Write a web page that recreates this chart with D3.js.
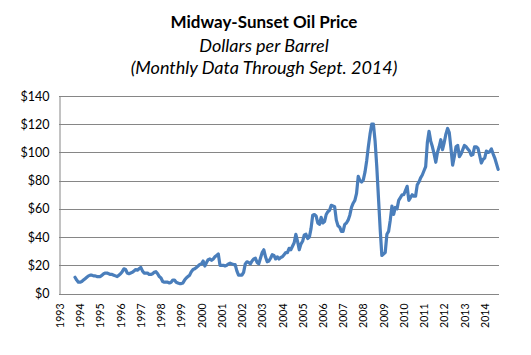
<!DOCTYPE html>
<html><head><meta charset="utf-8">
<script src="https://cdn.jsdelivr.net/npm/d3@7"></script>
<style>
html,body{margin:0;padding:0;background:#fff;}
svg{display:block;}
</style></head>
<body>
<svg id="chart" width="531" height="355"></svg>
<script>
// ---- data ----
const titleLines = ["Midway-Sunset Oil Price", "Dollars per Barrel", "(Monthly Data Through Sept. 2014)"];
const firstYear = 1993;            // category axis starts Jan 1993
const dataStartMonth = 9;          // first value is Oct 1993 (month index from Jan 1993)
const yearLabels = ["1993","1994","1995","1996","1997","1998","1999","2000","2001","2002","2003",
                    "2004","2005","2006","2007","2008","2009","2010","2011","2012","2013","2014"];
const yTicks = [0,20,40,60,80,100,120,140];
const p1993 = [11.5, 9.5, 8];
const p1994 = [8, 8.5, 9.5, 10.5, 11.5, 12.5, 13, 13, 12.5, 12.5, 12, 12];
const p1995 = [12, 13, 14, 14.5, 14.5, 14, 13.5, 13.5, 13, 12.5, 12, 13];
const p1996 = [14, 15.5, 17.5, 17, 14.5, 14, 14.5, 15, 16, 17, 16.5, 17.5];
const p1997 = [18.5, 16, 14.5, 14.5, 14.5, 13.5, 13.5, 14, 15, 15.5, 14, 12];
const p1998 = [11, 8.5, 8, 8, 8, 7.5, 8, 9.5, 9.5, 8, 7.5, 7];
const p1999 = [7, 7.5, 9.5, 11, 12, 13, 15.5, 17, 17.5, 18.5, 19.5, 20.5];
const p2000 = [21, 23, 19.5, 22, 24, 24.5, 23.5, 24.5, 26, 27, 28, 20];
const p2001 = [20, 20, 19.5, 20, 21, 21.5, 21, 20.5, 20.5, 16, 13, 13];
const p2002 = [13, 15, 21, 22.5, 22, 21, 23, 24.5, 25, 22, 21, 25];
const p2003 = [29, 31, 26, 22.5, 23, 25, 27.5, 27, 24.5, 26, 24.5, 25.5];
const p2004 = [26, 27.5, 29, 29, 32, 31, 33.5, 36, 42, 37, 31, 35];
const p2005 = [37, 41.5, 42, 39, 40, 46, 55.5, 56, 55, 50, 49, 54];
const p2006 = [50, 51, 56, 58, 59, 62.5, 62, 61.5, 52, 48, 47, 44];
const p2007 = [44, 49, 50, 52, 55.5, 61, 64, 66, 71, 83, 80, 79];
const p2008 = [80.5, 86, 94, 104, 113, 120, 120, 108, 90, 68, 46, 27];
const p2009 = [28, 29, 42, 44, 52, 62, 56, 61, 60, 66, 68, 70];
const p2010 = [70, 73, 76, 66, 68, 70, 69, 69, 77, 79, 82, 84];
const p2011 = [87, 90, 107, 115, 108, 104, 99, 93, 100, 104, 109, 102];
const p2012 = [107, 113, 117, 114, 103, 91, 97, 104, 105, 97, 99, 102];
const p2013 = [105, 104, 102.5, 101, 98, 98.5, 104, 104, 103, 98, 92.5, 95];
const p2014 = [96, 101, 100, 100.5, 102.5, 99, 96, 92, 88];

const prices = [].concat(p1993,p1994,p1995,p1996,p1997,p1998,p1999,p2000,p2001,p2002,p2003,
  p2004,p2005,p2006,p2007,p2008,p2009,p2010,p2011,p2012,p2013,p2014);
const series = prices.map((v,i)=>({m: dataStartMonth + i, v}));
const nMonths = (yearLabels.length - 1) * 12 + 9; // Jan 1993 .. Sep 2014

// ---- layout ----
const svg = d3.select("#chart");
const L = 59, R = 499, T = 96, B = 293.5;
const font = "Lato, 'Open Sans', 'Liberation Sans', sans-serif";

const x = d3.scaleLinear().domain([-0.5, nMonths - 0.5]).range([L, R]);
const y = d3.scaleLinear().domain([0, 140]).range([B, T]);

// gridlines
const gridC = "#868686";
svg.append("g").selectAll("line").data(yTicks.filter(d=>d>0)).join("line")
  .attr("x1", L).attr("x2", R)
  .attr("y1", d=>Math.round(y(d))+0.5).attr("y2", d=>Math.round(y(d))+0.5)
  .attr("stroke", gridC).attr("stroke-width", 1);

// y axis
const yAxis = d3.axisLeft(y).tickValues(yTicks).tickSize(0).tickPadding(10)
  .tickFormat(d=>"$"+d);
const gy = svg.append("g").attr("transform", `translate(${L+0.5},0)`).call(yAxis);
gy.select(".domain").attr("stroke", gridC);
gy.selectAll("text").attr("font-family", font).attr("font-size", 12.5).attr("fill", "#000");

// x axis (category labels at January of each year)
const xAxis = d3.axisBottom(x).tickValues(yearLabels.map((_,i)=>i*12)).tickSize(0)
  .tickFormat((d,i)=>yearLabels[i]);
const gx = svg.append("g").attr("transform", `translate(0,${Math.round(B)+0.5})`).call(xAxis);
gx.select(".domain").attr("stroke", gridC).attr("d", `M${L},0H${R}`);
gx.selectAll("text").attr("font-family", font).attr("font-size", 10.5).attr("fill", "#000")
  .attr("transform", "rotate(-90)").attr("text-anchor", "end")
  .attr("x", -9).attr("y", 0).attr("dy", "0.35em");

// line
const line = d3.line().x(d=>x(d.m)).y(d=>y(d.v));
svg.append("path").datum(series).attr("d", line)
  .attr("fill", "none").attr("stroke", "#4A7EBB").attr("stroke-width", 3.2)
  .attr("stroke-linejoin", "round").attr("stroke-linecap", "round");

// titles
const cx = 264;
svg.append("text").attr("x", cx).attr("y", 28).attr("text-anchor", "middle")
  .attr("font-family", font).attr("font-weight", "bold").attr("font-size", 17).text(titleLines[0]);
svg.append("text").attr("x", cx).attr("y", 52).attr("text-anchor", "middle")
  .attr("font-family", font).attr("font-style", "italic").attr("font-size", 18).text(titleLines[1]);
svg.append("text").attr("x", cx).attr("y", 74).attr("text-anchor", "middle")
  .attr("font-family", font).attr("font-style", "italic").attr("font-size", 18).text(titleLines[2]);
</script>
</body></html>
